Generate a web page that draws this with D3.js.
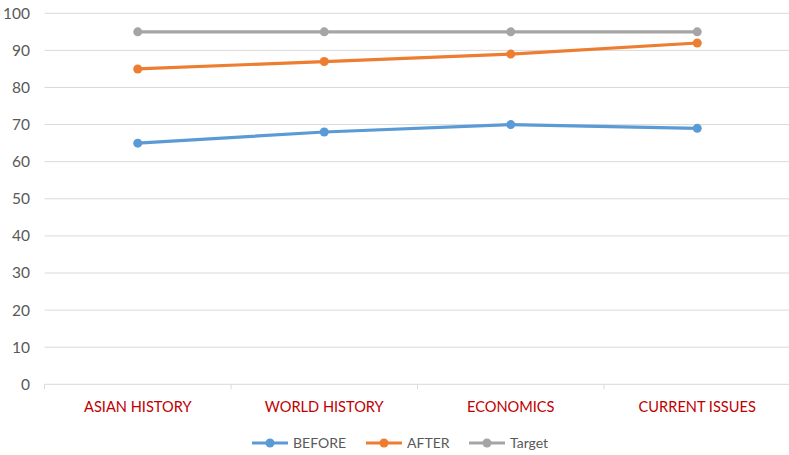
<!DOCTYPE html>
<html>
<head>
<meta charset="utf-8">
<script src="https://cdn.jsdelivr.net/npm/d3@7"></script>
<style>
  html, body { margin: 0; padding: 0; background: #fff; }
  svg text { font-family: Lato, "Open Sans", sans-serif; }
</style>
</head>
<body>
<svg id="chart" width="789" height="455"></svg>
<script>
// Subject categories and scores
const categories = ["ASIAN HISTORY", "WORLD HISTORY", "ECONOMICS", "CURRENT ISSUES"];
const before = [65, 68, 70, 69];
const after = [85, 87, 89, 92];
const target = [95, 95, 95, 95];
const yTicks = [0, 10, 20, 30, 40, 50, 60, 70, 80, 90, 100];

const seriesList = [
  { name: "BEFORE", values: before, color: "#5B9BD5" },
  { name: "AFTER", values: after, color: "#ED7D31" },
  { name: "Target", values: target, color: "#A5A5A5" }
];

const svg = d3.select("#chart");
const plotLeft = 44.5, plotRight = 790.5, plotTop = 13.3, plotBottom = 384.3;

const x = d3.scaleBand().domain(categories).range([plotLeft, plotRight]);
const y = d3.scaleLinear().domain([0, 100]).range([plotBottom, plotTop]);

// Horizontal gridlines
svg.append("g").selectAll("line").data(yTicks.filter(d => d > 0)).join("line")
  .attr("x1", plotLeft).attr("x2", plotRight)
  .attr("y1", d => y(d)).attr("y2", d => y(d))
  .attr("stroke", "#D9D9D9").attr("stroke-width", 1);

// Y axis labels
svg.append("g").selectAll("text").data(yTicks).join("text")
  .attr("x", 30).attr("y", d => y(d)).attr("dy", "0.35em")
  .attr("text-anchor", "end").attr("font-size", 15.5).attr("fill", "#595959")
  .text(d => d);

// X axis with category ticks between bands
const xAxis = svg.append("g").attr("transform", `translate(0,${plotBottom})`);
xAxis.append("line").attr("x1", plotLeft).attr("x2", plotRight)
  .attr("stroke", "#D9D9D9").attr("stroke-width", 1);
const boundaries = categories.map(c => x(c));
xAxis.selectAll("line.tick").data(boundaries).join("line").attr("class", "tick")
  .attr("x1", d => d).attr("x2", d => d).attr("y1", 0).attr("y2", 5)
  .attr("stroke", "#D9D9D9");
xAxis.selectAll("text").data(categories).join("text")
  .attr("x", d => x(d) + x.bandwidth() / 2).attr("y", 28)
  .attr("text-anchor", "middle").attr("font-size", 14.6).attr("fill", "#C00000")
  .text(d => d);

// Series lines and markers
const line = d3.line()
  .x((d, i) => x(categories[i]) + x.bandwidth() / 2)
  .y(d => y(d));

seriesList.slice().reverse().forEach(s => {
  const g = svg.append("g");
  g.append("path").datum(s.values).attr("d", line)
    .attr("fill", "none").attr("stroke", s.color).attr("stroke-width", 3.2)
    .attr("stroke-linejoin", "round").attr("stroke-linecap", "round");
  g.selectAll("circle").data(s.values).join("circle")
    .attr("cx", (d, i) => x(categories[i]) + x.bandwidth() / 2)
    .attr("cy", d => y(d)).attr("r", 4.5).attr("fill", s.color);
});

// Legend
const legendX = [252, 366, 469];
const legend = svg.append("g").attr("transform", "translate(0,443)");
seriesList.forEach((s, i) => {
  const gx = legendX[i];
  legend.append("line").attr("x1", gx).attr("x2", gx + 36).attr("y1", 0).attr("y2", 0)
    .attr("stroke", s.color).attr("stroke-width", 3);
  legend.append("circle").attr("cx", gx + 18).attr("cy", 0).attr("r", 4.5).attr("fill", s.color);
  legend.append("text").attr("x", gx + 41).attr("y", 0).attr("dy", "0.35em")
    .attr("font-size", 14).attr("fill", "#595959").text(s.name);
});
</script>
</body>
</html>
